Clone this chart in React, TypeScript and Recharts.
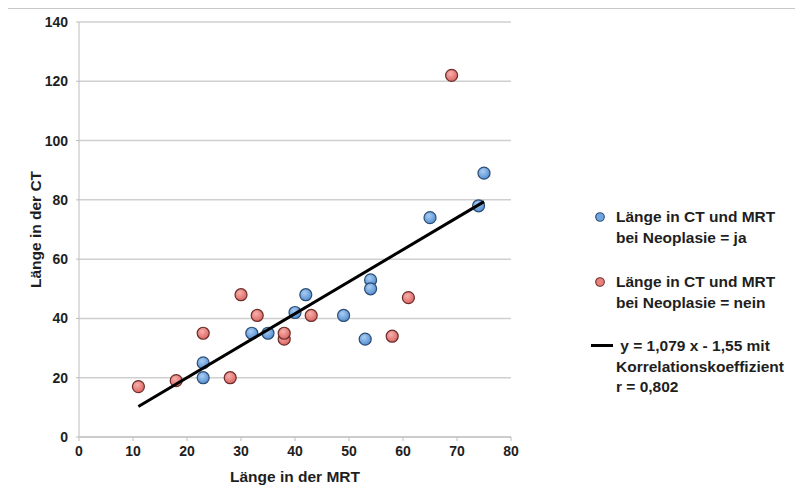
import {
  ScatterChart,
  Scatter,
  XAxis,
  YAxis,
  CartesianGrid,
} from "recharts";

// Länge in der MRT (x) / Länge in der CT (y)
const jaMrt = [23, 23, 32, 35, 40, 42, 49, 53, 54, 54, 65, 74, 75];
const jaCt = [25, 20, 35, 35, 42, 48, 41, 33, 53, 50, 74, 78, 89];
const neinMrt = [11, 18, 23, 28, 30, 33, 38, 38, 43, 58, 61, 69];
const neinCt = [17, 19, 35, 20, 48, 41, 33, 35, 41, 34, 47, 122];
const trendMrt = [11, 75];
const trendCt = [10.3, 79.4];

const xTicks = [0, 10, 20, 30, 40, 50, 60, 70, 80];
const yTicks = [0, 20, 40, 60, 80, 100, 120, 140];

const legendJa = ["Länge in CT und MRT", "bei Neoplasie = ja"];
const legendNein = ["Länge in CT und MRT", "bei Neoplasie = nein"];
const legendTrend = [" y = 1,079 x - 1,55 mit", "Korrelationskoeffizient", "r = 0,802"];

const toPoints = (xs: number[], ys: number[]) => xs.map((x, i) => ({ x, y: ys[i] }));

const jaData = toPoints(jaMrt, jaCt);
const neinData = toPoints(neinMrt, neinCt);
const trendData = toPoints(trendMrt, trendCt);

const FONT = "'Liberation Sans', Arial, sans-serif";
const TEXT = "#1e1e1e";

const dot = (fill: string, stroke: string) => (p: any) => (
  <circle cx={p.cx} cy={p.cy} r={6} fill={fill} stroke={stroke} strokeWidth={1.2} />
);

const noDot = () => <g />;

function LegendMarker({ fill, stroke }: { fill: string; stroke: string }) {
  return (
    <svg width={12} height={12} style={{ position: "absolute", left: -22, top: 4 }}>
      <circle cx={6} cy={6} r={4.3} fill={fill} stroke={stroke} strokeWidth={1.1} />
    </svg>
  );
}

function LegendBlock({ top, lines, children }: { top: number; lines: string[]; children: any }) {
  return (
    <div style={{ position: "absolute", left: 616, top, lineHeight: "20.5px" }}>
      {children}
      {lines.map((l) => (
        <div key={l} style={{ whiteSpace: "pre" }}>{l}</div>
      ))}
    </div>
  );
}

export default function App() {
  return (
    <div
      style={{
        position: "relative",
        width: 803,
        height: 496,
        margin: -8,
        background: "#fff",
        fontFamily: FONT,
        overflow: "hidden",
      }}
    >
      <div
        style={{
          position: "absolute",
          left: 5,
          top: 7,
          width: 820,
          height: 520,
          borderTop: "2px solid #c9c9c9",
          borderLeft: "2px solid #c9c9c9",
        }}
      />
      <div style={{ position: "absolute", left: 0, top: 0 }}>
        <ScatterChart width={803} height={496} margin={{ top: 22, right: 292, bottom: 0, left: 0 }}>
          <defs>
            <radialGradient id="blueFill" cx="40%" cy="35%" r="70%">
              <stop offset="0%" stopColor="#a9cdf2" />
              <stop offset="100%" stopColor="#4f8ad0" />
            </radialGradient>
            <radialGradient id="redFill" cx="40%" cy="35%" r="70%">
              <stop offset="0%" stopColor="#f7b0ad" />
              <stop offset="100%" stopColor="#d9605b" />
            </radialGradient>
          </defs>
          <CartesianGrid vertical={false} stroke="#cfcfcf" strokeWidth={1.5} />
          <XAxis
            type="number"
            dataKey="x"
            domain={[0, 80]}
            ticks={xTicks}
            height={59}
            tickSize={4}
            tickMargin={5}
            stroke="#bdbdbd"
            tick={{ fill: TEXT, fontSize: 14, fontWeight: "bold", fontFamily: FONT }}
            label={{
              value: "Länge in der MRT",
              position: "insideBottom",
              offset: 14,
              fill: TEXT,
              fontSize: 15.5,
              fontWeight: "bold",
              fontFamily: FONT,
            }}
          />
          <YAxis
            type="number"
            dataKey="y"
            domain={[0, 140]}
            ticks={yTicks}
            width={79}
            tickSize={3}
            tickMargin={8}
            stroke="#bdbdbd"
            tick={{ fill: TEXT, fontSize: 14, fontWeight: "bold", fontFamily: FONT }}
            label={{
              value: "Länge in der CT",
              position: "center",
              angle: -90,
              dx: -4,
              fill: TEXT,
              fontSize: 15.5,
              fontWeight: "bold",
              fontFamily: FONT,
            }}
          />
          <Scatter
            name="ja"
            data={jaData}
            shape={dot("url(#blueFill)", "#2b4c74")}
            isAnimationActive={false}
          />
          <Scatter
            name="nein"
            data={neinData}
            shape={dot("url(#redFill)", "#6b2c2a")}
            isAnimationActive={false}
          />
          <Scatter
            name="trend"
            data={trendData}
            line={{ stroke: "#000", strokeWidth: 3 }}
            shape={noDot}
            isAnimationActive={false}
          />
        </ScatterChart>
      </div>
      <div style={{ fontSize: 15.5, fontWeight: "bold", color: TEXT }}>
        <LegendBlock top={207} lines={legendJa}>
          <LegendMarker fill="#6fa6e2" stroke="#2b4c74" />
        </LegendBlock>
        <LegendBlock top={272} lines={legendNein}>
          <LegendMarker fill="#ea817c" stroke="#6b2c2a" />
        </LegendBlock>
        <LegendBlock top={336} lines={legendTrend}>
          <div style={{ position: "absolute", left: -25, top: 8, width: 22, height: 3, background: "#000" }} />
        </LegendBlock>
      </div>
    </div>
  );
}
